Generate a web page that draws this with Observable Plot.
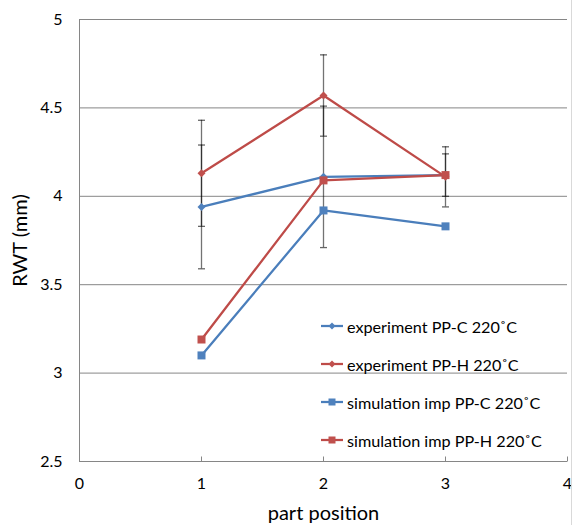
<!DOCTYPE html>
<html>
<head>
<meta charset="utf-8">
<script src="https://cdn.jsdelivr.net/npm/d3@7"></script>
<script src="https://cdn.jsdelivr.net/npm/@observablehq/plot@0.6"></script>
<style>
  html, body { margin: 0; padding: 0; background: #fff; }
  #wrap { position: relative; width: 573px; height: 525px; font-family: Lato, "Open Sans", sans-serif; }
  #border { position: absolute; left: 571px; top: 0; width: 1px; height: 525px; background: #d9d9d9; }
  #legend { position: absolute; left: 321px; top: 0; }
  .row { position: absolute; left: 0; height: 20px; display: flex; align-items: center; white-space: nowrap; font-size: 16.2px; color: #000; }
  .row svg { margin-right: 4px; }
</style>
</head>
<body>
<div id="wrap"><div id="chart"></div><div id="legend"></div><div id="border"></div></div>
<script>
// ---- data ----
const partPositions = [1, 2, 3];
const seriesNames = [
  "experiment PP-C 220˚C",
  "experiment PP-H 220˚C",
  "simulation imp PP-C 220˚C",
  "simulation imp PP-H 220˚C"
];
const expPPC = [3.94, 4.11, 4.12];
const expPPCErr = [0.35, 0.40, 0.12];
const expPPH = [4.13, 4.57, 4.11];
const expPPHErr = [0.30, 0.23, 0.17];
const simPPC = [3.10, 3.92, 3.83];
const simPPH = [3.19, 4.09, 4.12];
const xTicks = [0, 1, 2, 3, 4];
const yTicks = [2.5, 3, 3.5, 4, 4.5, 5];

const blue = "#4A7EBB", red = "#BE4B48";
const blueFill = "#4F81BD", redFill = "#C0504D";

// ---- build table ----
const rows = [];
const addSeries = (name, vals, errs, color, fill, shape) => {
  vals.forEach((v, i) => rows.push({series: name, x: partPositions[i], y: v, err: errs ? errs[i] : null, color, fill, shape}));
};
addSeries(seriesNames[0], expPPC, expPPCErr, blue, blueFill, "diamond");
addSeries(seriesNames[1], expPPH, expPPHErr, red, redFill, "diamond");
addSeries(seriesNames[2], simPPC, null, blue, blueFill, "square");
addSeries(seriesNames[3], simPPH, null, red, redFill, "square");
const errRows = rows.filter(d => d.err != null);

// ---- custom symbols ----
const diamond = {draw(c, size) { const r = Math.sqrt(size / Math.PI); c.moveTo(0, -r); c.lineTo(r, 0); c.lineTo(0, r); c.lineTo(-r, 0); c.closePath(); }};
const square = {draw(c, size) { const r = Math.sqrt(size / Math.PI); c.rect(-r, -r, 2 * r, 2 * r); }};
const cap = {draw(c, size) { const r = Math.sqrt(size / Math.PI); c.moveTo(-r, 0); c.lineTo(r, 0); }};
const tickUp = {draw(c, size) { const r = Math.sqrt(size / Math.PI); c.moveTo(0, 0); c.lineTo(0, -r); }};

const chart = Plot.plot({
  width: 573,
  height: 525,
  marginLeft: 79,
  marginRight: 6,
  marginTop: 19,
  marginBottom: 64,
  style: {fontFamily: "Lato, 'Open Sans', sans-serif", fontSize: "16px", color: "#000", background: "#fff"},
  x: {domain: [0, 4]},
  y: {domain: [2.5, 5]},
  marks: [
    Plot.ruleY(yTicks, {stroke: "#868686", strokeWidth: 1}),
    Plot.ruleX([0], {stroke: "#868686", strokeWidth: 1}),
    Plot.dot(xTicks, {x: d => d, frameAnchor: "bottom", symbol: tickUp, r: 5, stroke: "#868686", strokeWidth: 1}),
    Plot.axisY({ticks: yTicks, tickSize: 0, tickPadding: 17, tickFormat: d => String(d), fontSize: 16,
      label: "RWT (mm)", labelAnchor: "center", labelOffset: 67, labelArrow: false}),
    Plot.axisX({ticks: xTicks, tickSize: 0, tickPadding: 16, tickFormat: d => String(d), fontSize: 16,
      label: "part position", labelAnchor: "center", labelOffset: 58, labelArrow: false}),
    // error bars
    Plot.ruleX(errRows, {x: "x", y1: d => d.y - d.err, y2: d => d.y + d.err, stroke: "#000", strokeOpacity: 0.55, strokeWidth: 1.3}),
    Plot.dot(errRows, {x: "x", y: d => d.y + d.err, symbol: cap, r: 3.5, stroke: "#000", strokeOpacity: 0.6, strokeWidth: 1.3}),
    Plot.dot(errRows, {x: "x", y: d => d.y - d.err, symbol: cap, r: 3.5, stroke: "#000", strokeOpacity: 0.6, strokeWidth: 1.3}),
    // lines
    Plot.line(rows, {x: "x", y: "y", z: "series", stroke: "color", strokeWidth: 2.25}),
    // markers
    Plot.dot(rows.filter(d => d.shape === "diamond"), {x: "x", y: "y", symbol: diamond, r: 4, fill: "fill", stroke: "none"}),
    Plot.dot(rows.filter(d => d.shape === "square"), {x: "x", y: "y", symbol: square, r: 4, fill: "fill", stroke: "none"})
  ]
});
// style axis label sizes
chart.querySelectorAll("[aria-label='y-axis label'] text, [aria-label='x-axis label'] text").forEach(t => t.setAttribute("font-size", "20px"));
document.getElementById("chart").appendChild(chart);

// ---- legend ----
const legendColors = [blue, red, blue, red];
const legendFills = [blueFill, redFill, blueFill, redFill];
const legendShapes = ["diamond", "diamond", "square", "square"];
const legendTop = [316, 354, 392, 430];
const legend = document.getElementById("legend");
seriesNames.forEach((name, i) => {
  const row = document.createElement("div");
  row.className = "row";
  row.style.top = legendTop[i] + "px";
  const marker = legendShapes[i] === "diamond"
    ? `<path d="M11,6.5 L14.5,10 L11,13.5 L7.5,10 Z" fill="${legendFills[i]}"/>`
    : `<rect x="7.5" y="6.5" width="7" height="7" fill="${legendFills[i]}"/>`;
  row.innerHTML = `<svg width="22" height="20"><line x1="0" x2="22" y1="10" y2="10" stroke="${legendColors[i]}" stroke-width="2.25"/>${marker}</svg><span>${name}</span>`;
  legend.appendChild(row);
});
</script>
</body>
</html>
